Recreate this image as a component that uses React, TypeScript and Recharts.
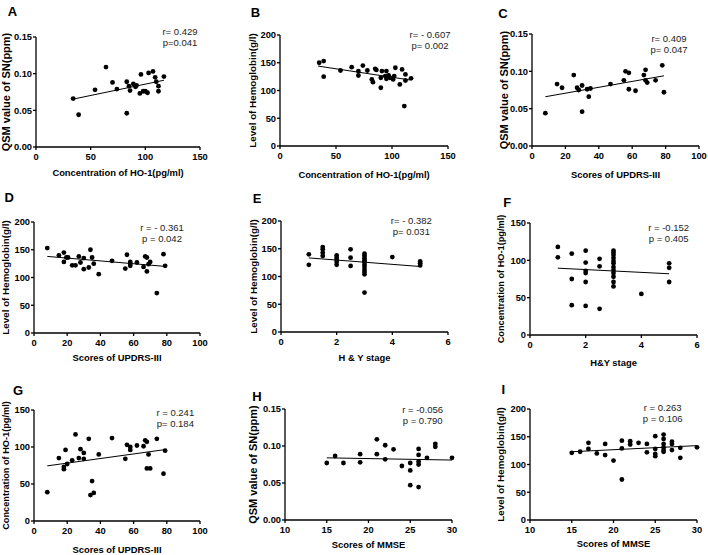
import { ScatterChart, Scatter, XAxis, YAxis, ReferenceLine, Label } from "recharts";

const FONT = '"Liberation Sans", Arial, Helvetica, sans-serif';

// A: HO-1 vs QSM
const aX = [34, 39, 54, 64, 70, 74, 83, 83, 85, 86, 89, 91, 92, 95, 96, 98, 100, 102, 103, 107, 109, 110, 112, 112, 117];
const aY = [0.066, 0.044, 0.078, 0.109, 0.088, 0.079, 0.089, 0.046, 0.083, 0.077, 0.086, 0.082, 0.084, 0.073, 0.099, 0.076, 0.076, 0.074, 0.101, 0.103, 0.095, 0.089, 0.083, 0.076, 0.096];
const aFit = [33, 0.065, 117, 0.091];

// B: HO-1 vs hemoglobin
const bX = [35, 39, 39, 54, 64, 70, 70, 74, 78, 82, 83, 85, 86, 90, 90, 91, 94, 95, 95, 97, 98, 101, 102, 103, 107, 109, 111, 112, 112, 117];
const bY = [150, 153, 125, 136, 142, 135, 127, 145, 136, 120, 115, 139, 137, 123, 105, 135, 126, 135, 121, 127, 123, 120, 126, 141, 111, 138, 72, 129, 118, 122];
const bFit = [34, 144, 116, 119];

// C: UPDRS-III vs QSM
const cX = [8, 15, 18, 25, 27, 28, 30, 30, 33, 34, 35, 47, 55, 56, 58, 58, 62, 67, 68, 68, 69, 74, 78, 79];
const cY = [0.044, 0.083, 0.078, 0.095, 0.078, 0.075, 0.081, 0.046, 0.076, 0.066, 0.077, 0.083, 0.088, 0.1, 0.098, 0.076, 0.074, 0.095, 0.102, 0.088, 0.085, 0.088, 0.108, 0.072];
const cFit = [8, 0.066, 79, 0.094];

// D: UPDRS-III vs hemoglobin
const dX = [8, 15, 18, 18, 19.5, 20.5, 23, 25, 27, 28, 30, 30, 33, 34, 35, 36, 39, 47, 55, 56, 58, 58, 58, 62, 66, 67, 68, 68, 69, 70, 74, 78, 79];
const dY = [153, 140, 145, 128, 136, 136, 122, 122, 138, 127, 135, 115, 118, 150, 136, 125, 106, 130, 116, 141, 128, 121, 125, 127, 119, 138, 136, 111, 124, 128, 72, 142, 121];
const dFit = [8, 138, 79, 120];

// E: H&Y vs hemoglobin
const eX = [1, 1, 1.5, 1.5, 1.5, 1.5, 2, 2, 2, 2, 2, 2.5, 2.5, 2.5, 3, 3, 3, 3, 3, 3, 3, 3, 3, 3, 3, 4, 5, 5, 5];
const eY = [140, 121, 153, 149, 143, 137, 138, 134, 130, 126, 121, 149, 134, 119, 141, 137, 133, 129, 126, 121, 117, 112, 108, 104, 71, 135, 127, 124, 120];
const eFit = [1, 133.5, 5, 118];

// F: H&Y vs HO-1
const fX = [1, 1, 1.5, 1.5, 1.5, 2, 2, 2, 2, 2, 2, 2.5, 2.5, 2.5, 3, 3, 3, 3, 3, 3, 3, 3, 3, 3, 3, 3, 4, 5, 5, 5];
const fY = [118, 104, 109, 75, 40, 113, 97, 86, 83, 71, 39, 102, 92, 35, 113, 110, 107, 103, 99, 96, 91, 87, 83, 78, 71, 65, 55, 96, 90, 71];
const fFit = [1, 89.5, 5, 82];

// G: UPDRS-III vs HO-1
const gX = [8, 15, 18, 18, 19, 20, 23, 25, 27, 28, 30, 30, 33, 34, 35, 36, 39, 47, 55, 56, 58, 58, 62, 66, 67, 68, 68, 69, 70, 74, 78, 79];
const gY = [39, 85, 73, 70, 96, 77, 82, 117, 85, 97, 92, 84, 111, 35, 54, 38, 90, 112, 84, 103, 100, 96, 102, 101, 109, 107, 71, 90, 71, 111, 64, 95];
const gFit = [8, 74.5, 79, 96.5];

// H: MMSE vs QSM
const hX = [15, 16, 17, 19, 19, 21, 21, 22, 22, 23, 24, 25, 25, 25, 26, 26, 26, 26, 26, 27, 28, 28, 30];
const hY = [0.077, 0.0865, 0.077, 0.089, 0.078, 0.109, 0.089, 0.101, 0.082, 0.0955, 0.073, 0.077, 0.067, 0.047, 0.096, 0.088, 0.079, 0.075, 0.0445, 0.084, 0.103, 0.099, 0.084];
const hFit = [15, 0.084, 30, 0.081];

// I: MMSE vs hemoglobin
const iX = [15, 16, 17, 17, 18, 19, 19, 20, 21, 21, 21, 22, 22, 23, 24, 24, 25, 25, 25, 25, 26, 26, 26, 26, 26, 26, 27, 27, 27, 28, 28, 30];
const iY = [121, 123, 139, 128, 120, 137, 117, 107, 143, 129, 73, 142, 136, 139, 137, 122, 151, 128, 119, 115, 154, 146, 137, 131, 126, 123, 141, 137, 126, 130, 112, 131];
const iFit = [15, 123, 30, 134];

const qsmTicks = [0, 0.05, 0.1, 0.15];
const hbTicks = [0, 50, 100, 150, 200];
const ho1Ticks = [0, 50, 100, 150];
const updrsTicks = [0, 20, 40, 60, 80, 100];
const hyTicks = [0, 2, 4, 6];
const mmseTicks = [10, 15, 20, 25, 30];

const QSM = "QSM value of SN(ppm)";
const HB = "Level of Hemoglobin(g/l)";
const HO1 = "Concentration of HO-1(pg/ml)";
const UPDRS = "Scores of UPDRS-III";
const MMSE = "Scores of MMSE";

// y titles were set at slightly different sizes in the source figure
const yTitleSize: Record<string, number> = { [QSM]: 11, [HB]: 9.8, [HO1]: 9.2 };

const W = 236;
const H = 185;

const panels = [
  { id: "A", at: [0, 0], plot: [36, 37, 200, 147], xs: aX, ys: aY, fit: aFit, xTicks: ho1Ticks, yTicks: qsmTicks, xLabel: HO1, yLabel: QSM, xlo: 26, ylx: 6, letter: [12.5, 11], stat: [180, 32], r: "r= 0.429", p: "p=0.041" },
  { id: "B", at: [236, 0], plot: [44, 35, 212, 146], xs: bX, ys: bY, fit: bFit, xTicks: ho1Ticks, yTicks: hbTicks, xLabel: HO1, yLabel: HB, xlo: 29, ylx: 17, letter: [19.5, 11.7], stat: [194, 35], r: "r= - 0.607", p: "p= 0.002" },
  { id: "C", at: [472, 0], plot: [60, 34, 227, 146], xs: cX, ys: cY, fit: cFit, xTicks: updrsTicks, yTicks: qsmTicks, xLabel: UPDRS, yLabel: QSM, xlo: 29, ylx: 32, letter: [31, 12.5], stat: [197, 39.3], r: "r= 0.409", p: "p= 0.047" },
  { id: "D", at: [0, 185], plot: [34, 37, 200, 148], xs: dX, ys: dY, fit: dFit, xTicks: updrsTicks, yTicks: hbTicks, xLabel: UPDRS, yLabel: HB, xlo: 25, ylx: 6, letter: [9.2, 11.7], stat: [162, 42.7], r: "r = - 0.361", p: "p = 0.042" },
  { id: "E", at: [236, 185], plot: [45, 36, 212, 147], xs: eX, ys: eY, fit: eFit, xTicks: hyTicks, yTicks: hbTicks, xLabel: "H & Y stage", yLabel: HB, xlo: 26, ylx: 18, letter: [21, 13.3], stat: [175.3, 35.7], r: "r= - 0.382", p: "p= 0.031" },
  { id: "F", at: [472, 185], plot: [58, 38, 225, 150], xs: fX, ys: fY, fit: fFit, xTicks: hyTicks, yTicks: ho1Ticks, xLabel: "H&Y stage", yLabel: HO1, xlo: 28, ylx: 29, letter: [35.3, 17], stat: [196.7, 43.3], r: "r = -0.152", p: "p = 0.405" },
  { id: "G", at: [0, 370], plot: [34, 40, 200, 151], xs: gX, ys: gY, fit: gFit, xTicks: updrsTicks, yTicks: ho1Ticks, xLabel: UPDRS, yLabel: HO1, xlo: 29, ylx: 6, letter: [18, 20.3], stat: [175.3, 43.3], r: "r = 0.241", p: "p= 0.184" },
  { id: "H", at: [236, 370], plot: [49, 39, 216, 150], xs: hX, ys: hY, fit: hFit, xTicks: mmseTicks, yTicks: qsmTicks, xLabel: MMSE, yLabel: QSM, xlo: 25, ylx: 17, letter: [21, 25.8], stat: [186.7, 40], r: "r = -0.056", p: "p = 0.790" },
  { id: "I", at: [472, 370], plot: [58, 39, 225, 150], xs: iX, ys: iY, fit: iFit, xTicks: mmseTicks, yTicks: hbTicks, xLabel: MMSE, yLabel: HB, xlo: 24, ylx: 29, letter: [31.3, 19], stat: [190.7, 38.3], r: "r = 0.263", p: "p = 0.106" },
];

const tickStyle = { fill: "#000", fontSize: 9.3, fontWeight: "bold", fontFamily: FONT };
const xLabelStyle = { fill: "#000", fontSize: 9.4, fontWeight: "bold", fontFamily: FONT };

const centered = (x: number, y: number) => ({
  position: "absolute" as const,
  left: x,
  top: y,
  transform: "translate(-50%, -50%)",
  whiteSpace: "nowrap" as const,
  fontFamily: FONT,
  lineHeight: 1,
});

const Dot = (props: any) => <circle cx={props.cx} cy={props.cy} r={2.4} fill="#000" />;

function Panel({ cfg }: { cfg: (typeof panels)[number] }) {
  const data = cfg.xs.map((x, i) => ({ x, y: cfg.ys[i] }));
  const [pl, pt, pr, pb] = cfg.plot;
  const xAxisH = cfg.xlo + 3.3;
  const xt = cfg.xTicks;
  const yt = cfg.yTicks;
  const isQsm = yt === qsmTicks;
  return (
    <div style={{ position: "absolute", left: cfg.at[0], top: cfg.at[1], width: W, height: H }}>
      <ScatterChart
        width={W}
        height={H}
        margin={{ top: pt, right: W - pr, bottom: H - pb - xAxisH, left: 0 }}
      >
        <XAxis
          type="number"
          dataKey="x"
          domain={[xt[0], xt[xt.length - 1]]}
          ticks={xt}
          interval={0}
          height={xAxisH}
          stroke="#000"
          strokeWidth={1.3}
          tickSize={3}
          tickMargin={3}
          tick={tickStyle}
        >
          <Label value={cfg.xLabel} position="insideBottom" offset={0} style={xLabelStyle} />
        </XAxis>
        <YAxis
          type="number"
          dataKey="y"
          domain={[yt[0], yt[yt.length - 1]]}
          ticks={yt}
          interval={0}
          width={pl}
          stroke="#000"
          strokeWidth={1.3}
          tickSize={3}
          tickMargin={1}
          tick={tickStyle}
          tickFormatter={(v: number) => (isQsm ? v.toFixed(2) : String(v))}
        >
          <Label
            value={cfg.yLabel}
            angle={-90}
            position="insideLeft"
            offset={cfg.ylx}
            style={{
              fill: "#000",
              fontSize: yTitleSize[cfg.yLabel],
              fontWeight: "bold",
              fontFamily: FONT,
              textAnchor: "middle",
            }}
          />
        </YAxis>
        <Scatter data={data} fill="#000" shape={Dot} isAnimationActive={false} />
        <ReferenceLine
          segment={[
            { x: cfg.fit[0], y: cfg.fit[1] },
            { x: cfg.fit[2], y: cfg.fit[3] },
          ]}
          stroke="#000"
          strokeWidth={1}
        />
      </ScatterChart>
      <div style={{ ...centered(cfg.letter[0], cfg.letter[1]), fontSize: 13, fontWeight: "bold", color: "#000" }}>
        {cfg.id}
      </div>
      <div style={{ ...centered(cfg.stat[0], cfg.stat[1]), fontSize: 9.5, color: "#222" }}>{cfg.r}</div>
      <div style={{ ...centered(cfg.stat[0], cfg.stat[1] + 11), fontSize: 9.5, color: "#222" }}>{cfg.p}</div>
    </div>
  );
}

export default function App() {
  return (
    <div style={{ position: "absolute", left: 0, top: 0, width: 708, height: 555, background: "#fff" }}>
      {panels.map((cfg) => (
        <Panel key={cfg.id} cfg={cfg} />
      ))}
    </div>
  );
}
